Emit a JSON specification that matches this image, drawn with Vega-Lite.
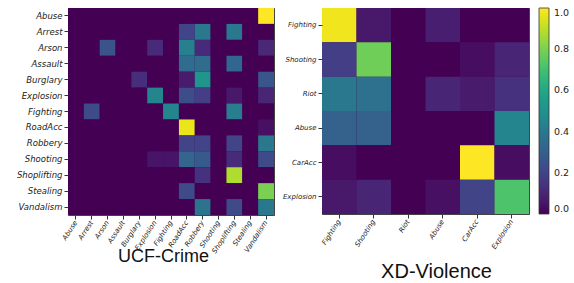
{
  "$schema": "https://vega.github.io/schema/vega-lite/v6.json",
  "padding": {"left": 15, "top": 7, "right": 4, "bottom": 0},
  "background": "white",
  "datasets": {
    "ucf": [
      {"actual":"Abuse","predicted":"Abuse","value":0},{"actual":"Abuse","predicted":"Arrest","value":0},{"actual":"Abuse","predicted":"Arson","value":0},{"actual":"Abuse","predicted":"Assault","value":0},{"actual":"Abuse","predicted":"Burglary","value":0},{"actual":"Abuse","predicted":"Explosion","value":0},{"actual":"Abuse","predicted":"Fighting","value":0},{"actual":"Abuse","predicted":"RoadAcc","value":0},{"actual":"Abuse","predicted":"Robbery","value":0},{"actual":"Abuse","predicted":"Shooting","value":0},{"actual":"Abuse","predicted":"Shoplifting","value":0},{"actual":"Abuse","predicted":"Stealing","value":0},{"actual":"Abuse","predicted":"Vandalism","value":1.0},
      {"actual":"Arrest","predicted":"Abuse","value":0},{"actual":"Arrest","predicted":"Arrest","value":0},{"actual":"Arrest","predicted":"Arson","value":0},{"actual":"Arrest","predicted":"Assault","value":0},{"actual":"Arrest","predicted":"Burglary","value":0},{"actual":"Arrest","predicted":"Explosion","value":0},{"actual":"Arrest","predicted":"Fighting","value":0},{"actual":"Arrest","predicted":"RoadAcc","value":0.2},{"actual":"Arrest","predicted":"Robbery","value":0.4},{"actual":"Arrest","predicted":"Shooting","value":0},{"actual":"Arrest","predicted":"Shoplifting","value":0.4},{"actual":"Arrest","predicted":"Stealing","value":0},{"actual":"Arrest","predicted":"Vandalism","value":0},
      {"actual":"Arson","predicted":"Abuse","value":0},{"actual":"Arson","predicted":"Arrest","value":0},{"actual":"Arson","predicted":"Arson","value":0.25},{"actual":"Arson","predicted":"Assault","value":0},{"actual":"Arson","predicted":"Burglary","value":0},{"actual":"Arson","predicted":"Explosion","value":0.12},{"actual":"Arson","predicted":"Fighting","value":0},{"actual":"Arson","predicted":"RoadAcc","value":0.43},{"actual":"Arson","predicted":"Robbery","value":0.12},{"actual":"Arson","predicted":"Shooting","value":0},{"actual":"Arson","predicted":"Shoplifting","value":0},{"actual":"Arson","predicted":"Stealing","value":0},{"actual":"Arson","predicted":"Vandalism","value":0.11},
      {"actual":"Assault","predicted":"Abuse","value":0},{"actual":"Assault","predicted":"Arrest","value":0},{"actual":"Assault","predicted":"Arson","value":0},{"actual":"Assault","predicted":"Assault","value":0},{"actual":"Assault","predicted":"Burglary","value":0},{"actual":"Assault","predicted":"Explosion","value":0},{"actual":"Assault","predicted":"Fighting","value":0},{"actual":"Assault","predicted":"RoadAcc","value":0.35},{"actual":"Assault","predicted":"Robbery","value":0.35},{"actual":"Assault","predicted":"Shooting","value":0},{"actual":"Assault","predicted":"Shoplifting","value":0.33},{"actual":"Assault","predicted":"Stealing","value":0},{"actual":"Assault","predicted":"Vandalism","value":0},
      {"actual":"Burglary","predicted":"Abuse","value":0},{"actual":"Burglary","predicted":"Arrest","value":0},{"actual":"Burglary","predicted":"Arson","value":0},{"actual":"Burglary","predicted":"Assault","value":0},{"actual":"Burglary","predicted":"Burglary","value":0.13},{"actual":"Burglary","predicted":"Explosion","value":0},{"actual":"Burglary","predicted":"Fighting","value":0},{"actual":"Burglary","predicted":"RoadAcc","value":0.07},{"actual":"Burglary","predicted":"Robbery","value":0.52},{"actual":"Burglary","predicted":"Shooting","value":0},{"actual":"Burglary","predicted":"Shoplifting","value":0},{"actual":"Burglary","predicted":"Stealing","value":0},{"actual":"Burglary","predicted":"Vandalism","value":0.26},
      {"actual":"Explosion","predicted":"Abuse","value":0},{"actual":"Explosion","predicted":"Arrest","value":0},{"actual":"Explosion","predicted":"Arson","value":0},{"actual":"Explosion","predicted":"Assault","value":0},{"actual":"Explosion","predicted":"Burglary","value":0},{"actual":"Explosion","predicted":"Explosion","value":0.45},{"actual":"Explosion","predicted":"Fighting","value":0},{"actual":"Explosion","predicted":"RoadAcc","value":0.23},{"actual":"Explosion","predicted":"Robbery","value":0.18},{"actual":"Explosion","predicted":"Shooting","value":0},{"actual":"Explosion","predicted":"Shoplifting","value":0.06},{"actual":"Explosion","predicted":"Stealing","value":0},{"actual":"Explosion","predicted":"Vandalism","value":0.1},
      {"actual":"Fighting","predicted":"Abuse","value":0},{"actual":"Fighting","predicted":"Arrest","value":0.22},{"actual":"Fighting","predicted":"Arson","value":0},{"actual":"Fighting","predicted":"Assault","value":0},{"actual":"Fighting","predicted":"Burglary","value":0},{"actual":"Fighting","predicted":"Explosion","value":0},{"actual":"Fighting","predicted":"Fighting","value":0.45},{"actual":"Fighting","predicted":"RoadAcc","value":0},{"actual":"Fighting","predicted":"Robbery","value":0},{"actual":"Fighting","predicted":"Shooting","value":0},{"actual":"Fighting","predicted":"Shoplifting","value":0.42},{"actual":"Fighting","predicted":"Stealing","value":0},{"actual":"Fighting","predicted":"Vandalism","value":0},
      {"actual":"RoadAcc","predicted":"Abuse","value":0},{"actual":"RoadAcc","predicted":"Arrest","value":0},{"actual":"RoadAcc","predicted":"Arson","value":0},{"actual":"RoadAcc","predicted":"Assault","value":0},{"actual":"RoadAcc","predicted":"Burglary","value":0},{"actual":"RoadAcc","predicted":"Explosion","value":0},{"actual":"RoadAcc","predicted":"Fighting","value":0},{"actual":"RoadAcc","predicted":"RoadAcc","value":0.97},{"actual":"RoadAcc","predicted":"Robbery","value":0},{"actual":"RoadAcc","predicted":"Shooting","value":0},{"actual":"RoadAcc","predicted":"Shoplifting","value":0},{"actual":"RoadAcc","predicted":"Stealing","value":0},{"actual":"RoadAcc","predicted":"Vandalism","value":0.04},
      {"actual":"Robbery","predicted":"Abuse","value":0},{"actual":"Robbery","predicted":"Arrest","value":0},{"actual":"Robbery","predicted":"Arson","value":0},{"actual":"Robbery","predicted":"Assault","value":0},{"actual":"Robbery","predicted":"Burglary","value":0},{"actual":"Robbery","predicted":"Explosion","value":0},{"actual":"Robbery","predicted":"Fighting","value":0},{"actual":"Robbery","predicted":"RoadAcc","value":0.2},{"actual":"Robbery","predicted":"Robbery","value":0.2},{"actual":"Robbery","predicted":"Shooting","value":0},{"actual":"Robbery","predicted":"Shoplifting","value":0.2},{"actual":"Robbery","predicted":"Stealing","value":0},{"actual":"Robbery","predicted":"Vandalism","value":0.4},
      {"actual":"Shooting","predicted":"Abuse","value":0},{"actual":"Shooting","predicted":"Arrest","value":0},{"actual":"Shooting","predicted":"Arson","value":0},{"actual":"Shooting","predicted":"Assault","value":0},{"actual":"Shooting","predicted":"Burglary","value":0},{"actual":"Shooting","predicted":"Explosion","value":0.05},{"actual":"Shooting","predicted":"Fighting","value":0.05},{"actual":"Shooting","predicted":"RoadAcc","value":0.32},{"actual":"Shooting","predicted":"Robbery","value":0.28},{"actual":"Shooting","predicted":"Shooting","value":0},{"actual":"Shooting","predicted":"Shoplifting","value":0.12},{"actual":"Shooting","predicted":"Stealing","value":0},{"actual":"Shooting","predicted":"Vandalism","value":0.22},
      {"actual":"Shoplifting","predicted":"Abuse","value":0},{"actual":"Shoplifting","predicted":"Arrest","value":0},{"actual":"Shoplifting","predicted":"Arson","value":0},{"actual":"Shoplifting","predicted":"Assault","value":0},{"actual":"Shoplifting","predicted":"Burglary","value":0},{"actual":"Shoplifting","predicted":"Explosion","value":0},{"actual":"Shoplifting","predicted":"Fighting","value":0},{"actual":"Shoplifting","predicted":"RoadAcc","value":0},{"actual":"Shoplifting","predicted":"Robbery","value":0.14},{"actual":"Shoplifting","predicted":"Shooting","value":0},{"actual":"Shoplifting","predicted":"Shoplifting","value":0.88},{"actual":"Shoplifting","predicted":"Stealing","value":0},{"actual":"Shoplifting","predicted":"Vandalism","value":0},
      {"actual":"Stealing","predicted":"Abuse","value":0},{"actual":"Stealing","predicted":"Arrest","value":0},{"actual":"Stealing","predicted":"Arson","value":0},{"actual":"Stealing","predicted":"Assault","value":0},{"actual":"Stealing","predicted":"Burglary","value":0},{"actual":"Stealing","predicted":"Explosion","value":0},{"actual":"Stealing","predicted":"Fighting","value":0},{"actual":"Stealing","predicted":"RoadAcc","value":0.22},{"actual":"Stealing","predicted":"Robbery","value":0},{"actual":"Stealing","predicted":"Shooting","value":0},{"actual":"Stealing","predicted":"Shoplifting","value":0},{"actual":"Stealing","predicted":"Stealing","value":0},{"actual":"Stealing","predicted":"Vandalism","value":0.8},
      {"actual":"Vandalism","predicted":"Abuse","value":0},{"actual":"Vandalism","predicted":"Arrest","value":0},{"actual":"Vandalism","predicted":"Arson","value":0},{"actual":"Vandalism","predicted":"Assault","value":0},{"actual":"Vandalism","predicted":"Burglary","value":0},{"actual":"Vandalism","predicted":"Explosion","value":0},{"actual":"Vandalism","predicted":"Fighting","value":0},{"actual":"Vandalism","predicted":"RoadAcc","value":0},{"actual":"Vandalism","predicted":"Robbery","value":0.38},{"actual":"Vandalism","predicted":"Shooting","value":0},{"actual":"Vandalism","predicted":"Shoplifting","value":0.22},{"actual":"Vandalism","predicted":"Stealing","value":0},{"actual":"Vandalism","predicted":"Vandalism","value":0.4}
    ],
    "xd": [
      {"actual":"Fighting","predicted":"Fighting","value":0.98},{"actual":"Fighting","predicted":"Shooting","value":0.06},{"actual":"Fighting","predicted":"Riot","value":0},{"actual":"Fighting","predicted":"Abuse","value":0.08},{"actual":"Fighting","predicted":"CarAcc","value":0},{"actual":"Fighting","predicted":"Explosion","value":0},
      {"actual":"Shooting","predicted":"Fighting","value":0.18},{"actual":"Shooting","predicted":"Shooting","value":0.78},{"actual":"Shooting","predicted":"Riot","value":0},{"actual":"Shooting","predicted":"Abuse","value":0},{"actual":"Shooting","predicted":"CarAcc","value":0.03},{"actual":"Shooting","predicted":"Explosion","value":0.1},
      {"actual":"Riot","predicted":"Fighting","value":0.4},{"actual":"Riot","predicted":"Shooting","value":0.37},{"actual":"Riot","predicted":"Riot","value":0},{"actual":"Riot","predicted":"Abuse","value":0.1},{"actual":"Riot","predicted":"CarAcc","value":0.07},{"actual":"Riot","predicted":"Explosion","value":0.14},
      {"actual":"Abuse","predicted":"Fighting","value":0.31},{"actual":"Abuse","predicted":"Shooting","value":0.31},{"actual":"Abuse","predicted":"Riot","value":0},{"actual":"Abuse","predicted":"Abuse","value":0},{"actual":"Abuse","predicted":"CarAcc","value":0},{"actual":"Abuse","predicted":"Explosion","value":0.45},
      {"actual":"CarAcc","predicted":"Fighting","value":0.03},{"actual":"CarAcc","predicted":"Shooting","value":0},{"actual":"CarAcc","predicted":"Riot","value":0},{"actual":"CarAcc","predicted":"Abuse","value":0},{"actual":"CarAcc","predicted":"CarAcc","value":1.0},{"actual":"CarAcc","predicted":"Explosion","value":0.03},
      {"actual":"Explosion","predicted":"Fighting","value":0.06},{"actual":"Explosion","predicted":"Shooting","value":0.1},{"actual":"Explosion","predicted":"Riot","value":0},{"actual":"Explosion","predicted":"Abuse","value":0.04},{"actual":"Explosion","predicted":"CarAcc","value":0.2},{"actual":"Explosion","predicted":"Explosion","value":0.72}
    ]
  },
  "hconcat": [
    {
      "data": {"name": "ucf"},
      "width": 206,
      "height": 207,
      "mark": {"type": "rect"},
      "encoding": {
        "x": {
          "field": "predicted", "type": "nominal",
          "sort": ["Abuse","Arrest","Arson","Assault","Burglary","Explosion","Fighting","RoadAcc","Robbery","Shooting","Shoplifting","Stealing","Vandalism"],
          "axis": {"title": "UCF-Crime", "labelAngle": -57, "labelFontSize": 7, "titleX": 95, "titleY": 46, "titleFontSize": 18}
        },
        "y": {
          "field": "actual", "type": "nominal",
          "sort": ["Abuse","Arrest","Arson","Assault","Burglary","Explosion","Fighting","RoadAcc","Robbery","Shooting","Shoplifting","Stealing","Vandalism"],
          "axis": {"title": null, "labelFontSize": 8.5}
        },
        "color": {"field": "value", "type": "quantitative", "scale": {"scheme": "viridis", "domain": [0, 1]}, "legend": null}
      }
    },
    {
      "data": {"name": "xd"},
      "width": 207,
      "height": 206,
      "mark": {"type": "rect"},
      "encoding": {
        "x": {
          "field": "predicted", "type": "nominal",
          "sort": ["Fighting","Shooting","Riot","Abuse","CarAcc","Explosion"],
          "axis": {"title": "XD-Violence", "labelAngle": -57, "labelFontSize": 7, "titleX": 114, "titleY": 63, "titleFontSize": 20}
        },
        "y": {
          "field": "actual", "type": "nominal",
          "sort": ["Fighting","Shooting","Riot","Abuse","CarAcc","Explosion"],
          "axis": {"title": null, "labelFontSize": 7}
        },
        "color": {
          "field": "value", "type": "quantitative",
          "scale": {"scheme": "viridis", "domain": [0, 1]},
          "legend": {"type": "gradient", "title": null, "orient": "right", "offset": 10, "gradientLength": 206, "gradientThickness": 10, "values": [0, 0.2, 0.4, 0.6, 0.8, 1], "format": ".1f", "labelFontSize": 9.5, "labelFont": "DejaVu Sans", "labelColor": "#222", "labelOffset": 5, "gradientStrokeColor": "#333", "gradientStrokeWidth": 0.8}
        }
      }
    }
  ],
  "spacing": 48,
  "bounds": "flush",
  "resolve": {"scale": {"color": "independent"}},
  "config": {
    "view": {"stroke": "#444", "strokeWidth": 1, "fill": "#440154"},
    "axis": {
      "labelFont": "DejaVu Sans", "labelFontStyle": "italic", "labelColor": "#222",
      "tickColor": "#333", "tickSize": 4, "labelPadding": 2, "domain": false,
      "titleFont": "Liberation Sans", "titleFontWeight": "normal", "titleColor": "#111", "titleBaseline": "alphabetic"
    }
  }
}
